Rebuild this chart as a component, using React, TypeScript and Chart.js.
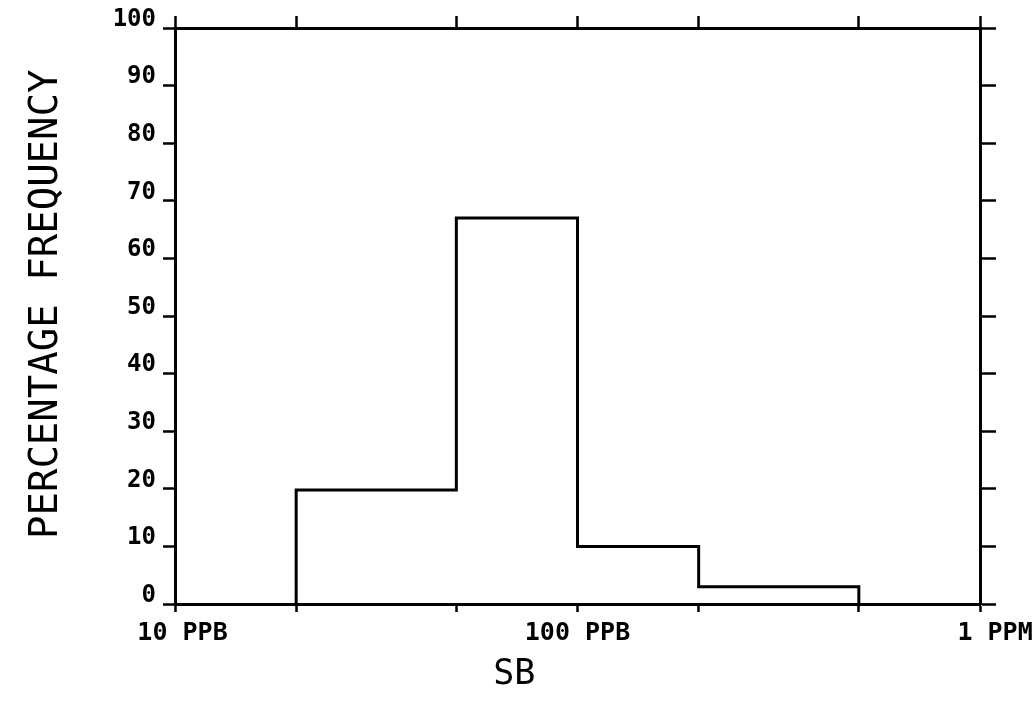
import React, { useEffect, useRef } from "react";
import { Chart, registerables } from "chart.js";

Chart.register(...registerables);

// Histogram bin edges (PPB) and percentage frequency in each bin
const binEdges = [20, 50, 100, 200, 500];
const frequencies = [19.8, 67, 10, 3];

// Axis ticks
const xTickValues = [10, 20, 50, 100, 200, 500, 1000];
const xTickLabels = ["10 PPB", "", "", "100 PPB", "", "", "1 PPM"];
const xLabelLead = [1, 0, 0, 0, 0, 0, 2];
const yMin = 0;
const yMax = 100;
const yStep = 10;

const xTitle = "SB";
const yTitle = "PERCENTAGE FREQUENCY";

const FONT = "'DejaVu Sans Mono', 'Liberation Mono', monospace";

export default function App() {
  const canvasRef = useRef<HTMLCanvasElement | null>(null);

  useEffect(() => {
    if (!canvasRef.current) return;
    const points = [
      { x: binEdges[0], y: 0 },
      ...frequencies.map((f, i) => ({ x: binEdges[i], y: f })),
      { x: binEdges[binEdges.length - 1], y: 0 },
    ];

    const border = { display: true, color: "#000", width: 3 };
    const grid = (len: number) => ({
      display: true,
      drawOnChartArea: false,
      drawTicks: true,
      tickLength: len,
      tickWidth: 2.5,
      tickColor: "#000",
    });
    const setTicks = (axis: any) => {
      axis.ticks = xTickValues.map((v) => ({ value: v }));
    };
    const fixH = (h: number) => (s: any) => {
      s.height = h;
      s.paddingLeft = 0;
      s.paddingRight = 0;
    };
    const fixW = (w: number) => (s: any) => {
      s.width = w;
      s.paddingTop = 0;
      s.paddingBottom = 0;
    };

    const chart = new Chart(canvasRef.current, {
      type: "line",
      data: {
        datasets: [
          {
            data: points,
            stepped: "before",
            borderColor: "#000",
            borderWidth: 3,
            pointRadius: 0,
            fill: false,
            xAxisID: "x",
            yAxisID: "y",
          } as any,
        ],
      },
      options: {
        animation: false,
        responsive: true,
        maintainAspectRatio: false,
        layout: { padding: 0 },
        plugins: {
          legend: { display: false },
          tooltip: { enabled: false },
          title: { display: false },
        },
        scales: {
          x: {
            type: "logarithmic",
            position: "bottom",
            min: 10,
            max: 1000,
            afterBuildTicks: setTicks,
            afterFit: fixH(102),
            border,
            grid: grid(8),
            ticks: {
              autoSkip: false,
              maxRotation: 0,
              minRotation: 0,
              padding: 6,
              color: "#000",
              font: { family: FONT, size: 25, weight: "bold" },
              callback: (_v: any, i: number) =>
                " ".repeat(xLabelLead[i]) + xTickLabels[i],
            },
            title: {
              display: true,
              text: xTitle + "      ",
              color: "#000",
              font: { family: FONT, size: 35 },
              padding: { top: 0, bottom: 10 },
            },
          },
          x2: {
            type: "logarithmic",
            position: "top",
            min: 10,
            max: 1000,
            afterBuildTicks: setTicks,
            afterFit: fixH(28),
            border,
            grid: grid(12),
            ticks: { display: false, autoSkip: false },
          },
          y: {
            type: "linear",
            position: "left",
            min: yMin,
            max: yMax,
            afterFit: fixW(175),
            border,
            grid: grid(12),
            ticks: {
              stepSize: yStep,
              padding: 7,
              color: "#000",
              font: { family: FONT, size: 24, weight: "bold", lineHeight: 0.7 },
              callback: (v: any) => [String(v), ""],
            },
            title: {
              display: true,
              text: " " + yTitle,
              color: "#000",
              font: { family: FONT, size: 39 },
              padding: { top: 23, bottom: 0 },
            },
          },
          y2: {
            type: "linear",
            position: "right",
            min: yMin,
            max: yMax,
            afterFit: fixW(56),
            border,
            grid: grid(16),
            ticks: { display: false, stepSize: yStep },
          },
        },
      } as any,
    });

    return () => chart.destroy();
  }, []);

  return (
    <div
      style={{
        position: "absolute",
        left: 0,
        top: 0,
        width: 1036,
        height: 706,
        background: "#fff",
      }}
    >
      <canvas ref={canvasRef} />
    </div>
  );
}
